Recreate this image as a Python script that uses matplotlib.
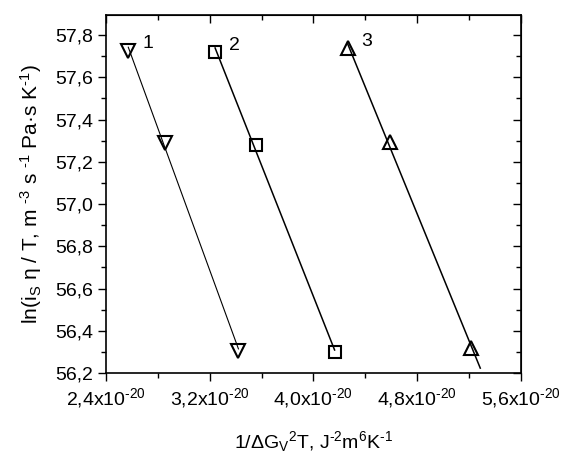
import numpy as np
import matplotlib
matplotlib.use("Agg")
import matplotlib.pyplot as plt
from matplotlib.ticker import MultipleLocator, FuncFormatter

plt.rcParams['font.family'] = ['Liberation Sans', 'DejaVu Sans']
plt.rcParams['mathtext.fontset'] = 'custom'
plt.rcParams['mathtext.rm'] = 'Liberation Sans'
plt.rcParams['mathtext.it'] = 'Liberation Sans:italic'

# data (x in units of 1e-20 J^-2 m^6 K^-1)
series_names = ["1", "2", "3"]
x1 = [2.572, 2.856, 3.422]
y1 = [57.726, 57.290, 56.306]
x2 = [3.242, 3.559, 4.164]
y2 = [57.718, 57.279, 56.298]
x3 = [4.265, 4.595, 5.218]
y3 = [57.737, 57.295, 56.317]

xs = [x1, x2, x3]
ys = [y1, y2, y3]
markers = ["v", "s", "^"]
msizes = [10.5, 8.5, 10.5]
lws = [0.8, 1.1, 1.1]
ext = [0.0, 0.0, 0.07]

H = "\u2010"  # hyphen

fig = plt.figure(figsize=(5.62, 4.54), dpi=100)
ax = fig.add_axes([0.1886, 0.1784, 0.7379, 0.7886])

for x, y, m, ms, lw, e, name in zip(xs, ys, markers, msizes, lws, ext, series_names):
    x = np.array(x); y = np.array(y)
    k, b = np.polyfit(x, y, 1)
    xl = np.array([x.min(), x.max() + e])
    ax.plot(xl, k * xl + b, color='black', lw=lw, zorder=2)
    ax.plot(x, y, linestyle='none', marker=m, ms=ms, mfc='none', mec='black',
            mew=1.5, zorder=3)
    ax.annotate(name, (x[0], y[0]), xytext=(14, 5), textcoords='offset points',
                ha='center', va='center', fontsize=14)

ax.set_xlim(2.4, 5.6)
ax.set_ylim(56.2, 57.895)

ax.xaxis.set_major_locator(MultipleLocator(0.8))
ax.xaxis.set_minor_locator(MultipleLocator(0.4))
ax.yaxis.set_major_locator(MultipleLocator(0.2))
ax.yaxis.set_minor_locator(MultipleLocator(0.1))

def xfmt(v, pos):
    return (r"%.1f" % v).replace('.', ',') + "x10$^{\\mathregular{" + H + "20}}$"

def yfmt(v, pos):
    return (r"%.1f" % v).replace('.', ',')

ax.xaxis.set_major_formatter(FuncFormatter(xfmt))
ax.yaxis.set_major_formatter(FuncFormatter(yfmt))

ax.tick_params(which='both', direction='out', top=False, right=False,
               labelsize=14, width=1.0, colors='black')
ax.tick_params(which='major', length=6)
ax.tick_params(which='minor', length=3.5)
for spine in ax.spines.values():
    spine.set_linewidth(1.2)
ax2 = ax.secondary_xaxis('top')
ax2.xaxis.set_major_locator(MultipleLocator(0.8))
ax2.xaxis.set_minor_locator(MultipleLocator(0.4))
ax2.tick_params(which='both', direction='in', labeltop=False, width=1.0)
ax2.tick_params(which='major', length=6)
ax2.tick_params(which='minor', length=3.5)
ax3 = ax.secondary_yaxis('right')
ax3.yaxis.set_major_locator(MultipleLocator(0.2))
ax3.yaxis.set_minor_locator(MultipleLocator(0.1))
ax3.tick_params(which='both', direction='in', labelright=False, width=1.0)
ax3.tick_params(which='major', length=6)
ax3.tick_params(which='minor', length=3.5)

ylab = ("ln(i$_{\\mathregular{S}}$ η / T, m $^{\\mathregular{" + H + "3}}$ s $^{\\mathregular{" + H
        + "1}}$ Pa·s K$^{\\mathregular{" + H + "1}}$)")
xlab = ("1/ΔG$_{\\mathregular{V}}$$^{\\mathregular{2}}$T, J$^{\\mathregular{" + H
        + "2}}$m$^{\\mathregular{6}}$K$^{\\mathregular{" + H + "1}}$")
ax.set_ylabel(ylab, fontsize=15, labelpad=8)
ax.set_xlabel(xlab, fontsize=14, labelpad=14)

fig.savefig("out.png", dpi=100)
